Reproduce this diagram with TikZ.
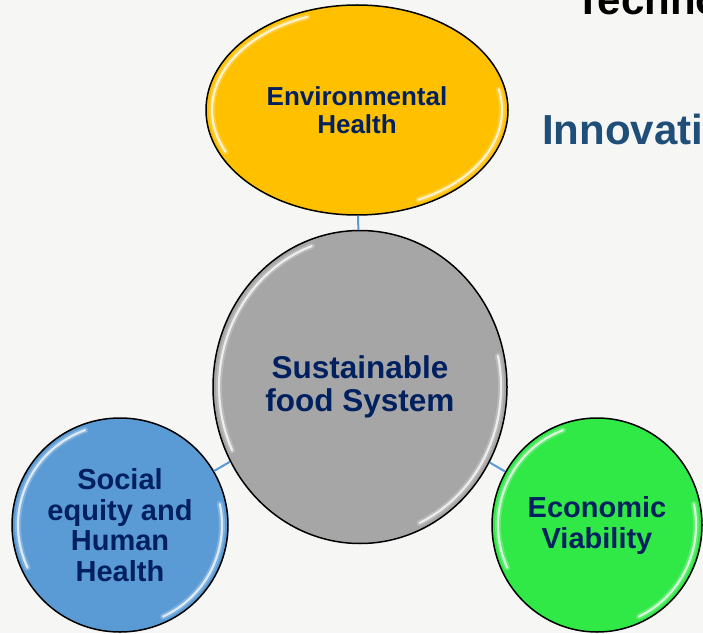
\documentclass[tikz,border=0pt]{standalone}
\usepackage{fontspec}
\setmainfont{Liberation Sans}
\usetikzlibrary{shapes.geometric}
\definecolor{bgc}{RGB}{246,246,245}
\definecolor{navy}{RGB}{0,32,96}
\definecolor{linkc}{RGB}{91,155,213}
\definecolor{yel}{RGB}{255,192,0}
\definecolor{gry}{RGB}{166,166,166}
\definecolor{blu}{RGB}{91,155,213}
\definecolor{grn}{RGB}{48,232,70}
\definecolor{innov}{RGB}{31,78,121}
\newcommand\gleamarcs[3]{%
  \foreach \gw/\go in {6/0.22,2.2/0.75}{
  \draw[gleamline,line width=\gw pt,opacity=\go] (#1.center) ++({(#2)*cos(110)},{(#3)*sin(110)}) arc[start angle=110,end angle=205,x radius=#2,y radius=#3];
  \draw[gleamline,line width=\gw pt,opacity=\go] (#1.center) ++({(#2)*cos(-65)},{(#3)*sin(-65)}) arc[start angle=-65,end angle=12,x radius=#2,y radius=#3];
  }
}
\begin{document}
\begin{tikzpicture}[x=1pt,y=1pt,
  blob/.style={ellipse,draw=black,line width=1.5pt,inner sep=0pt,text=navy,align=center},
  link/.style={draw=linkc,line width=2pt},
  gleamline/.style={draw=white,line cap=round}]
\useasboundingbox (0,0) rectangle (703,633);
\clip (0,0) rectangle (703,633);
\fill[bgc] (0,0) rectangle (703,633);
\node[anchor=base west,inner sep=0pt,font=\fontsize{42}{44}\selectfont\bfseries,text=black] (tech) at (575,618) {Technology};
\node[anchor=base west,inner sep=0pt,font=\fontsize{42}{44}\selectfont\bfseries,text=innov] (innov) at (542,488) {Innovation};
\node[blob,fill=yel,minimum width=302pt,minimum height=210pt,font=\fontsize{26}{28}\selectfont\bfseries] (env) at (357,523) {Environmental\\Health};
\node[blob,fill=gry,minimum width=294pt,minimum height=313pt,font=\fontsize{31.5}{33}\selectfont\bfseries] (sfs) at (360,246) {Sustainable\\food System};
\node[blob,fill=blu,minimum width=216pt,minimum height=214pt,font=\fontsize{29}{30.5}\selectfont\bfseries] (soc) at (120,108) {Social\\equity and\\Human\\Health};
\node[blob,fill=grn,minimum width=210pt,minimum height=214pt,font=\fontsize{29}{31}\selectfont\bfseries] (eco) at (597,108) {Economic\\Viability};
\draw[link] (env) -- (sfs);
\draw[link] (soc) -- (sfs);
\draw[link] (eco) -- (sfs);
\gleamarcs{env}{145}{99}
\gleamarcs{sfs}{141}{150}
\gleamarcs{soc}{102}{101}
\gleamarcs{eco}{99}{101}
\end{tikzpicture}
\end{document}
